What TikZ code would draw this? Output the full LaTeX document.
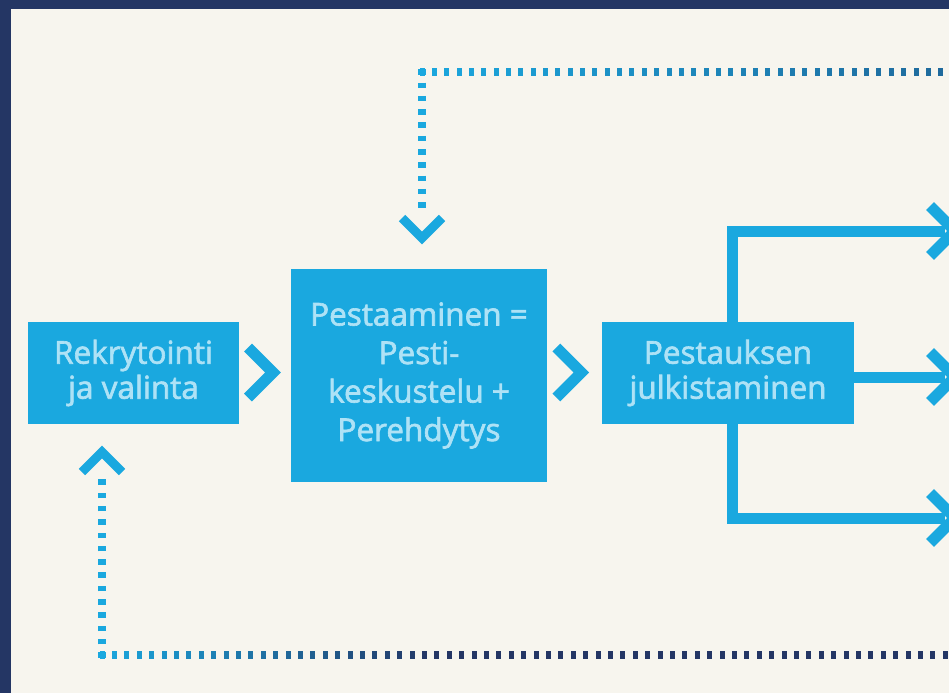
\documentclass[tikz,border=0pt]{standalone}
\usepackage{fontspec}
\setmainfont{Open Sans}
\newfontfamily\boxfont{Open Sans}[FakeBold=2]
\usetikzlibrary{calc}
\definecolor{navy}{HTML}{243664}
\definecolor{cream}{HTML}{F7F5EE}
\definecolor{lb}{HTML}{1AA8DF}
\definecolor{txt}{HTML}{AEE2F6}
\tikzset{
  procbox/.style={fill=lb, draw=none, text=txt, align=center, inner sep=0pt,
    font=\boxfont\fontsize{31.5}{35}\selectfont},
  branch/.style={draw=lb, line width=11pt, miter limit=10},
  chevline/.style={draw=lb, line width=11pt, miter limit=10},
  smallchev/.style={draw=lb, line width=9pt, miter limit=10},
  dotv/.style={draw=lb, line width=8pt, dash pattern=on 5.5pt off 7.8pt},
  chevr/.pic={\draw[chevline] (-25,-25) -- (0,0) -- (-25,25);},
}
\begin{document}
\begin{tikzpicture}[x=1pt,y=-1pt]
\useasboundingbox (0,0) rectangle (949,693);
\clip (0,0) rectangle (949,693);
\fill[cream] (0,0) rectangle (949,693);
\fill[navy] (0,0) rectangle (949,9);
\fill[navy] (0,0) rectangle (11,693);

% boxes
\node[procbox, minimum width=211pt, minimum height=102pt] (rek) at (133.5,373) {Rekrytointi\\ja valinta};
\node[procbox, minimum width=256pt, minimum height=213pt, font=\boxfont\fontsize{31.5}{38.5}\selectfont] (pest) at (419,375.5) {Pestaaminen =\\Pesti-\\keskustelu +\\Perehdytys};
\node[procbox, minimum width=252pt, minimum height=102pt] (julk) at (728,373) {Pestauksen\\julkistaminen};

% chevrons between boxes
\coordinate (ch1) at (273,372.5);
\coordinate (ch2) at (581.3,372.5);
\pic at (ch1) {chevr};
\pic at (ch2) {chevr};

% branches
\coordinate (ctop) at (732,231);
\coordinate (cbot) at (732,518);
\coordinate (atop) at (955,231);
\coordinate (amid) at (955,377);
\coordinate (abot) at (955,518);
\draw[branch] (julk.north -| ctop) -- (ctop) -- ($(atop)+(-10,0)$);
\draw[branch] (julk.south -| cbot) -- (cbot) -- ($(abot)+(-10,0)$);
\draw[branch] (julk.east |- amid) -- ($(amid)+(-10,0)$);
\pic at (atop) {chevr};
\pic at (amid) {chevr};
\pic at (abot) {chevr};

% top dotted feedback
\coordinate (tcorner) at (422,72);
\coordinate (dtip) at (422,238);
\draw[dotv, shorten <=-2.75pt, shorten >=27pt] (tcorner) -- (dtip);
\draw[smallchev] ($(dtip)+(-20,-20)$) -- (dtip) -- ($(dtip)+(20,-20)$);
\foreach \i in {0,...,43} {
  \pgfmathtruncatemacro\p{100-55*\i/43}
  \fill[lb!\p!navy] ($(tcorner)+(\i*12.35-2.5,-4)$) rectangle ++(5,8);
}

% bottom dotted feedback
\coordinate (bcorner) at (102,655);
\coordinate (utip) at (102,452);
\draw[dotv, shorten <=-2.75pt, shorten >=26pt] (bcorner) -- (utip);
\draw[smallchev] ($(utip)+(-20,20)$) -- (utip) -- ($(utip)+(20,20)$);
\foreach \i in {0,...,69} {
  \pgfmathtruncatemacro\p{max(0,100-\i*12.4/3.3)}
  \fill[lb!\p!navy] ($(bcorner)+(\i*12.4-2.5,-4)$) rectangle ++(5,8);
}
\end{tikzpicture}
\end{document}
